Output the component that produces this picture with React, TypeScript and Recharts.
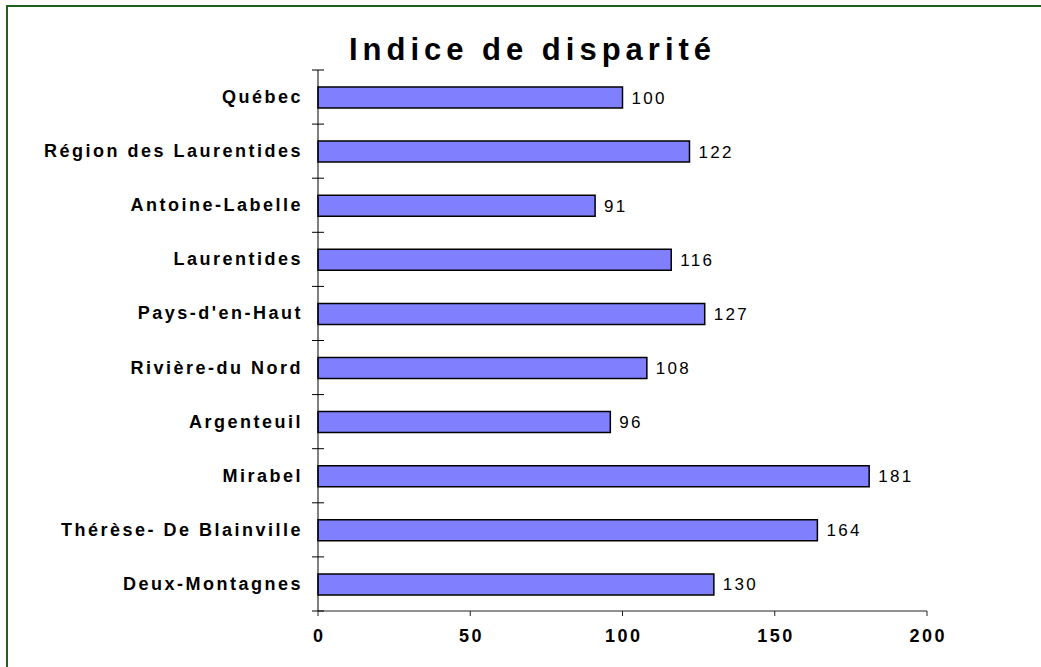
import { BarChart, Bar, XAxis, YAxis, LabelList } from 'recharts';

const categories = [
  'Québec',
  'Région des Laurentides',
  'Antoine-Labelle',
  'Laurentides',
  "Pays-d'en-Haut",
  'Rivière-du Nord',
  'Argenteuil',
  'Mirabel',
  'Thérèse- De Blainville',
  'Deux-Montagnes',
];
const values = [100, 122, 91, 116, 127, 108, 96, 181, 164, 130];
const xTicks = [0, 50, 100, 150, 200];

const data = categories.map((name, i) => ({ name, value: values[i] }));

const FONT = '"Liberation Sans", Arial, sans-serif';

// label plus the small tick marks that sit on the band edges and cross the axis
function CategoryTick(props: any) {
  const { x, y, payload, height, visibleTicksCount, index } = props;
  const half = height / visibleTicksCount / 2;
  const axisX = x + 15;
  return (
    <g>
      <line x1={axisX - 6} x2={axisX + 6} y1={y - half} y2={y - half} stroke="#000" strokeWidth={1} />
      {index === visibleTicksCount - 1 && (
        <line x1={axisX - 6} x2={axisX + 6} y1={y + half} y2={y + half} stroke="#000" strokeWidth={1} />
      )}
      <text
        x={x}
        y={y}
        textAnchor="end"
        dominantBaseline="central"
        style={{ fontFamily: FONT, fontSize: 18, fontWeight: 'bold', letterSpacing: 2.5, fill: '#000' }}
      >
        {payload.value}
      </text>
    </g>
  );
}

function ValueTick(props: any) {
  const { x, y, payload } = props;
  return (
    <text
      x={x + 1.2}
      y={y}
      dy="0.71em"
      textAnchor="middle"
      style={{ fontFamily: FONT, fontSize: 18, fontWeight: 'bold', letterSpacing: 2.4, fill: '#000' }}
    >
      {payload.value}
    </text>
  );
}

export default function App() {
  return (
    <div
      style={{
        position: 'fixed',
        top: 0,
        left: 0,
        width: 1041,
        height: 667,
        background: '#fff',
        overflow: 'hidden',
      }}
    >
      <div
        style={{
          position: 'absolute',
          left: 6,
          top: 5,
          width: 1100,
          height: 800,
          border: '2px solid #1f5f1f',
        }}
      />
      <div
        style={{
          position: 'absolute',
          left: 0,
          top: 32,
          width: 1065,
          textAlign: 'center',
          fontFamily: FONT,
          fontSize: 31,
          fontWeight: 'bold',
          letterSpacing: 5,
          lineHeight: 'normal',
          color: '#000',
        }}
      >
        Indice de disparité
      </div>
      <div style={{ position: 'absolute', left: 0, top: 0 }}>
        <BarChart
          width={1041}
          height={667}
          data={data}
          layout="vertical"
          margin={{ top: 70, right: 114, bottom: 0, left: 18 }}
        >
          <XAxis
            type="number"
            domain={[0, 200]}
            ticks={xTicks}
            height={56}
            axisLine={{ stroke: '#222' }}
            tickLine={{ stroke: '#222' }}
            tickSize={5}
            tickMargin={13}
            tick={<ValueTick />}
            interval={0}
          />
          <YAxis
            type="category"
            dataKey="name"
            width={300}
            axisLine={{ stroke: '#000' }}
            tickLine={false}
            tickSize={0}
            tickMargin={15}
            tick={<CategoryTick />}
            interval={0}
          />
          <Bar
            dataKey="value"
            fill="#8080ff"
            stroke="#000"
            strokeWidth={1.5}
            barSize={21}
            isAnimationActive={false}
          >
            <LabelList
              dataKey="value"
              position="right"
              offset={9}
              style={{ fontFamily: FONT, fontSize: 17, letterSpacing: 2.3, fill: '#000' }}
            />
          </Bar>
        </BarChart>
      </div>
    </div>
  );
}
